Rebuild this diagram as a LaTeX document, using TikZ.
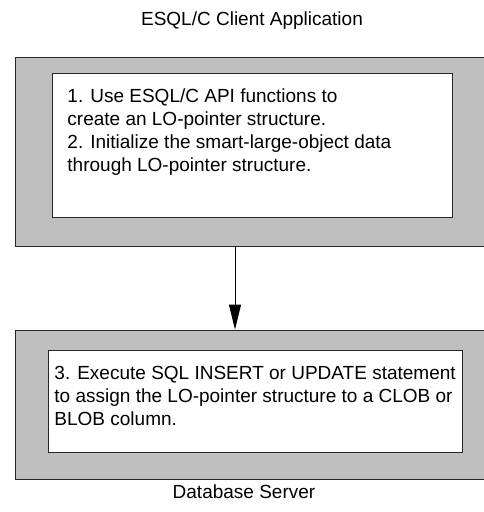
\documentclass[tikz,border=0pt]{standalone}
\usepackage{fontspec}
\setmainfont{Liberation Sans}
\usetikzlibrary{arrows.meta}

\tikzset{
  layer/.style={draw=black!85,fill=black!25,line width=0.9pt,minimum width=485pt,inner sep=0pt},
  stepbox/.style={draw=black!85,fill=white,line width=0.9pt,anchor=north west,align=left,inner sep=0pt},
  caption/.style={font=\fontsize{19}{22}\selectfont}
}

\begin{document}
\begin{tikzpicture}[x=1pt,y=-1pt]
\useasboundingbox (0,0) rectangle (484,512);
\begin{scope}
\clip (0,0) rectangle (484,512);
% client side
\node [caption] (clienttitle) at (252,21) {ESQL/C Client Application};
\node [layer,minimum height=189pt] (client) at (257.5,151.5) {};
\node [stepbox] (step12) at (52,73) {\hspace{15pt}\parbox[t][144pt][t]{385pt}{\fontsize{19}{23}\selectfont\vspace{15pt}
1. Use ESQL/C API functions to\\
create an LO-pointer structure.\\
2. Initialize the smart-large-object data\\
through LO-pointer structure.}};
% server side
\node [layer,minimum height=149pt] (server) at (257.5,404.5) {};
\node [stepbox] (step3) at (48,350) {\hspace{6pt}\parbox[t][102pt][t]{408pt}{\fontsize{19}{23}\selectfont\vspace{16pt}
3. Execute SQL INSERT or UPDATE statement\\
to assign the LO-pointer structure to a CLOB or\\
BLOB column.}};
\node [caption] (servertitle) at (244,492) {Database Server};
\end{scope}
\coordinate (arrowx) at (235,0);
\draw [line width=0.9pt,-{Triangle[length=25pt,width=12pt]}] (client.south -| arrowx) -- (server.north -| arrowx);
\end{tikzpicture}
\end{document}
